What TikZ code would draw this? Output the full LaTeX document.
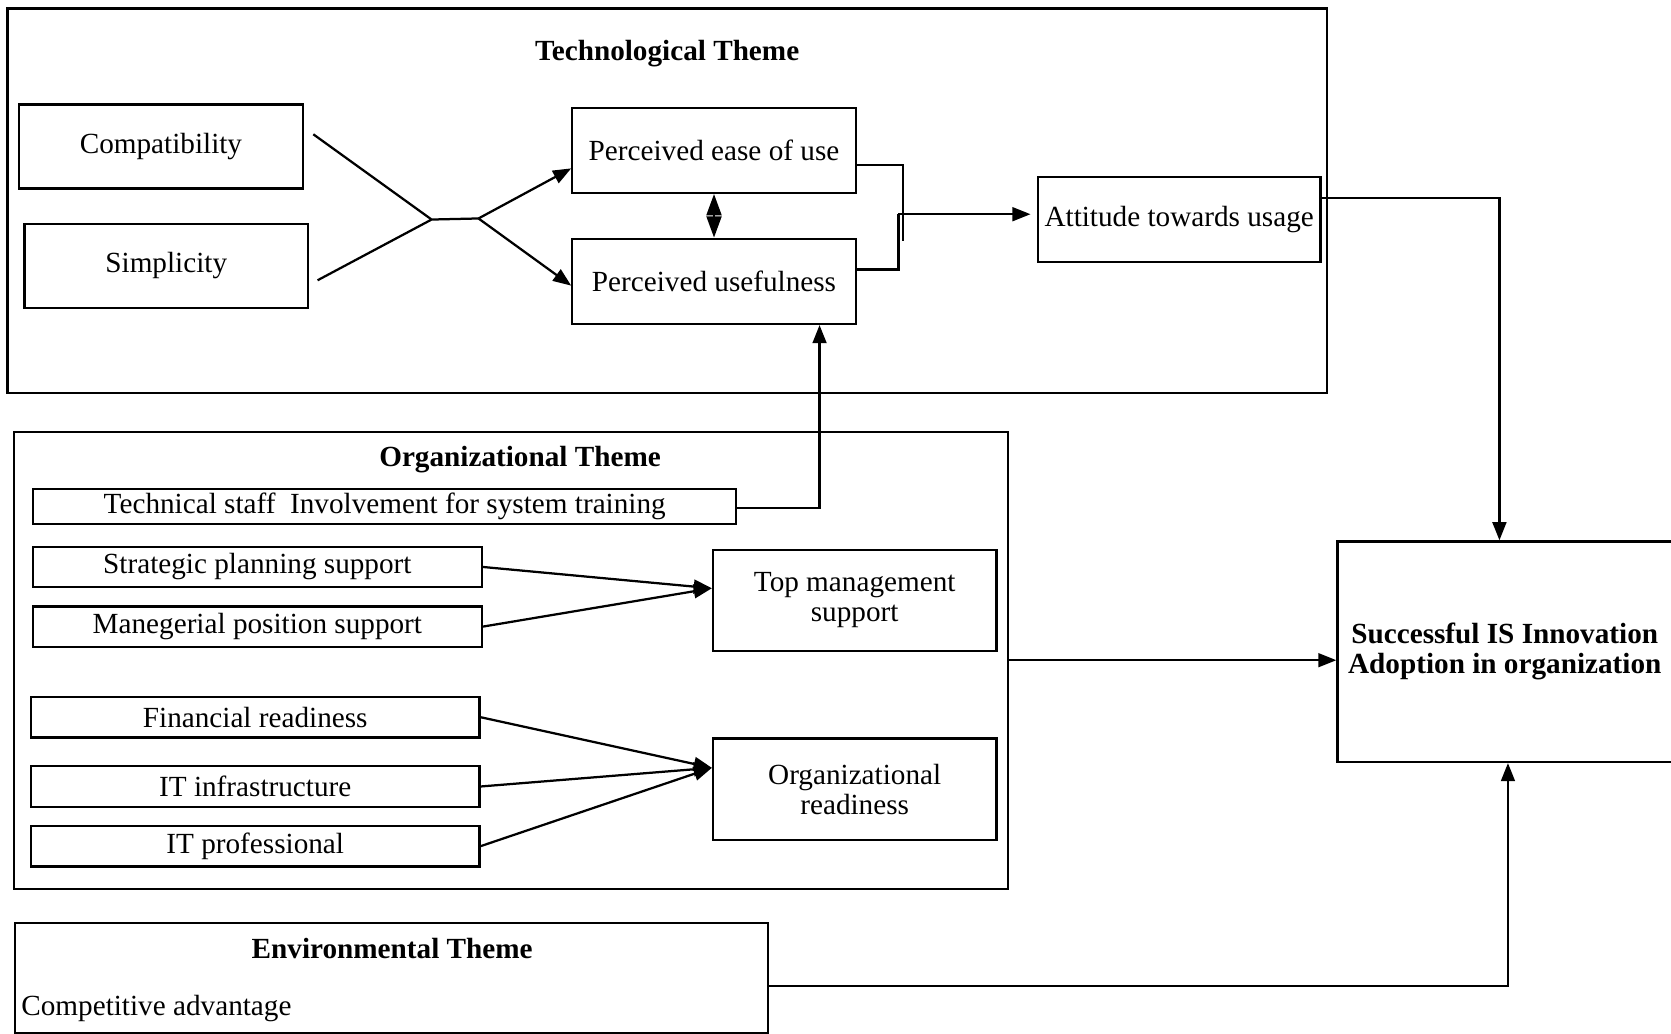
\documentclass[tikz,border=0pt]{standalone}
\usepackage{fontspec}
\setmainfont{Liberation Serif}
\usetikzlibrary{calc,arrows.meta}

\begin{document}
\begin{tikzpicture}[x=0.02cm,y=-0.02cm,line width=1.2pt,
  box/.style={draw,inner sep=0pt,align=center,font=\fontsize{15.6}{16}\selectfont},
  item/.style={box,minimum width=8.42cm,minimum height=0.76cm},
  frame/.style={draw,inner sep=0pt},
  title/.style={font=\fontsize{15.6}{16}\selectfont\bfseries},
  arr/.style={-{Triangle[length=0.34cm,width=0.26cm]}},
  dbl/.style={{Triangle[length=0.4cm,width=0.28cm]}-{Triangle[length=0.4cm,width=0.28cm]}}]
  \useasboundingbox(0,0)rectangle(1568,970);
  \clip(0,0)rectangle(1568,970);
  % technological theme
  \node[frame,minimum width=24.76cm,minimum height=7.22cm](tech)at(626,188.5){};
  \node[title](techtitle)at(626,50){Technological Theme};
  \node[box,minimum width=5.32cm,minimum height=1.58cm](compat)at(151,137.5){Compatibility};
  \node[box,minimum width=5.32cm,minimum height=1.58cm](simp)at(156,249.5){Simplicity};
  \node[box,minimum width=5.32cm,minimum height=1.6cm](peou)at(670,141){Perceived ease of use};
  \node[box,minimum width=5.32cm,minimum height=1.6cm](pu)at(670,264){Perceived usefulness};
  \node[box,minimum width=5.3cm,minimum height=1.6cm](att)at(1106.5,206){Attitude towards usage};
  \node[box,minimum width=6.28cm,minimum height=4.14cm,font=\fontsize{15.6}{16}\selectfont\bfseries](succ)at(1412,611.5){Successful IS Innovation\\Adoption in organization};
  \coordinate(c1)at(294,126);
  \coordinate(c2)at(298,263);
  \coordinate(j1)at(405,206);
  \coordinate(j2)at(449,205);
  \draw(c1)--(j1)--(j2) (c2)--(j1);
  \draw[arr](j2)--($(peou.west)+(0,17)$);
  \draw[arr](j2)--($(pu.west)+(0,4)$);
  \draw[dbl](peou.south)--(pu.north);
  \coordinate(k1)at(847,226);
  \coordinate(k2)at(843,201);
  \draw($(peou.east)+(0,14)$)-|(k1);
  \draw($(pu.east)+(0,-11)$)-|(k2);
  \draw[arr,shorten >=0.12cm](k2)--(att.west|-k2);
  \draw[arr]($(att.east)+(0,-20)$)-|($(succ.north)+(-5,0)$);
  % organizational theme
  \node[frame,minimum width=18.66cm,minimum height=8.58cm](org)at(479.5,619.5){};
  \node[title](orgtitle)at(488,431){Organizational Theme};
  \node[box,minimum width=13.2cm,minimum height=0.66cm](staff)at(361,475.5){Technical staff~ Involvement for system training};
  \node[item](strat)at(241.5,532){Strategic planning support};
  \node[item](mgr)at(241.5,588){Manegerial position support};
  \node[box,minimum width=5.32cm,minimum height=1.9cm](tms)at(802,563.5){Top management\\support};
  \node[box,minimum width=5.32cm,minimum height=1.9cm](orr)at(802,740.5){Organizational\\readiness};
  \draw[arr]($(staff.east)+(0,1.5)$)-|($(pu.south east)+(-35,0)$);
  \draw[arr](strat.east)--($(tms.west)+(0,-11.5)$);
  \draw[arr](mgr.east)--($(tms.west)+(0,-11.5)$);
  \foreach \n/\t/\y in {fin/Financial readiness/673,itinf/IT infrastructure/738,itpro/IT professional/794}{
    \node[item](\n)at(239.5,\y){\t};
    \draw[arr](\n.east)--($(orr.west)+(0,-20)$);
  }
  \draw[arr](org.east)--(succ.west|-org.east);
  % environmental theme
  \node[frame,minimum width=14.14cm,minimum height=2.06cm](env)at(367.5,917.5){};
  \node[title](envtitle)at(368,890){Environmental Theme};
  \node[anchor=west,inner sep=0pt,font=\fontsize{15.6}{16}\selectfont](comp)at(19,946){Competitive advantage};
  \draw[arr]($(env.east)+(0,7.5)$)-|($(succ.south)+(3,0)$);
\end{tikzpicture}
\end{document}
